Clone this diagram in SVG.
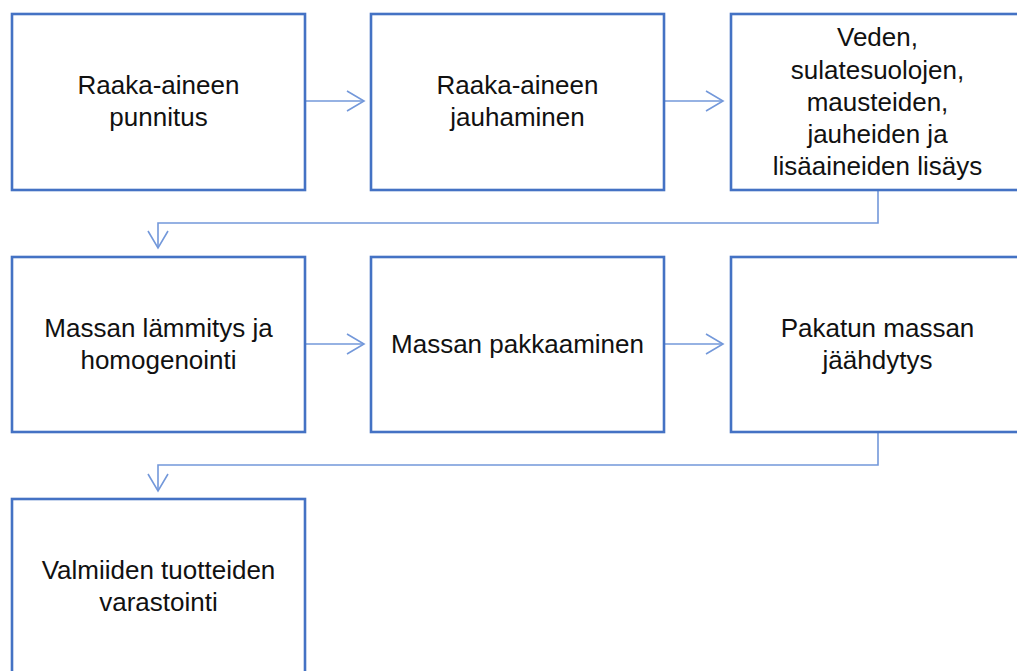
<svg xmlns="http://www.w3.org/2000/svg" width="1017" height="671" viewBox="0 0 1017 671">
<style>
.box{fill:#fff;stroke:#4472C4;stroke-width:2.6}
.lbl{font-family:"Liberation Sans",Arial,sans-serif;font-size:26px;fill:#111;text-anchor:middle}
.con{fill:none;stroke:#7398DA;stroke-width:1.6}
</style>
<defs>
<marker id="arr" markerUnits="userSpaceOnUse" markerWidth="20" markerHeight="24" viewBox="-18 -11 20 22" refX="0" refY="0" orient="auto">
<path d="M-17,-10 L0,0 L-17,10" fill="none" stroke="#7398DA" stroke-width="1.6"/>
</marker>
</defs>
<rect width="1017" height="671" fill="#fff"/>
<g id="connectors">
<path class="con" d="M306,101 H364" marker-end="url(#arr)"/>
<path class="con" d="M665,101 H723" marker-end="url(#arr)"/>
<path class="con" d="M878,191 V223 H158 V248" marker-end="url(#arr)"/>
<path class="con" d="M306,344 H364" marker-end="url(#arr)"/>
<path class="con" d="M665,344 H723" marker-end="url(#arr)"/>
<path class="con" d="M878,433 V465 H158 V491" marker-end="url(#arr)"/>
</g>
<g id="n1"><rect class="box" x="12" y="14" width="293" height="176"/>
<text class="lbl" x="158.5" y="94">Raaka-aineen</text><text class="lbl" x="158.5" y="126">punnitus</text></g>
<g id="n2"><rect class="box" x="371" y="14" width="293" height="176"/>
<text class="lbl" x="517.5" y="94">Raaka-aineen</text><text class="lbl" x="517.5" y="126">jauhaminen</text></g>
<g id="n3"><rect class="box" x="731" y="14" width="293" height="176"/>
<text class="lbl" x="877.5" y="46">Veden,</text><text class="lbl" x="877.5" y="79">sulatesuolojen,</text><text class="lbl" x="877.5" y="111">mausteiden,</text><text class="lbl" x="877.5" y="143">jauheiden ja</text><text class="lbl" x="877.5" y="175">lisäaineiden lisäys</text></g>
<g id="n4"><rect class="box" x="12" y="257" width="293" height="175"/>
<text class="lbl" x="158.5" y="337">Massan lämmitys ja</text><text class="lbl" x="158.5" y="369">homogenointi</text></g>
<g id="n5"><rect class="box" x="371" y="257" width="293" height="175"/>
<text class="lbl" x="517.5" y="353">Massan pakkaaminen</text></g>
<g id="n6"><rect class="box" x="731" y="257" width="293" height="175"/>
<text class="lbl" x="877.5" y="337">Pakatun massan</text><text class="lbl" x="877.5" y="369">jäähdytys</text></g>
<g id="n7"><rect class="box" x="12" y="499" width="293" height="200"/>
<text class="lbl" x="158.5" y="579">Valmiiden tuotteiden</text><text class="lbl" x="158.5" y="611">varastointi</text></g>
</svg>
